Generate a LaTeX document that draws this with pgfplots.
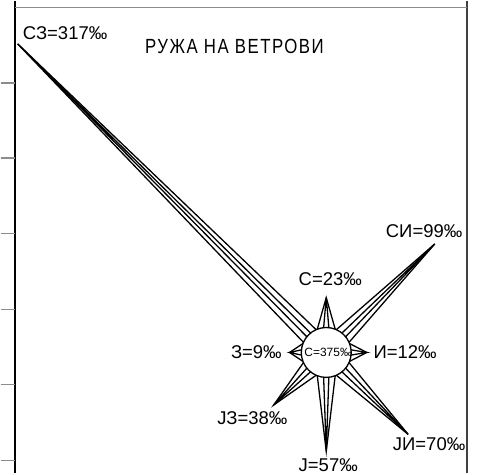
\documentclass[border=0pt]{standalone}
\usepackage{pgfplots}
\pgfplotsset{compat=1.18}
\usepackage{fontspec}
\setmainfont{Liberation Sans}
\newfontfamily\titlefont[LetterSpace=9]{Liberation Sans}
\begin{document}
\begin{tikzpicture}
\begin{axis}[
  x=1pt, y=1pt,
  xmin=-326, xmax=157, ymin=-121, ymax=352,
  hide axis, clip=false,
]
% page extent
\path[draw=none] (axis cs:-326,-121) rectangle (axis cs:157,352);
% frame lines of the sheet
\draw[black, line width=2pt] (axis cs:-312,-121) -- (axis cs:-312,352);
\draw[black!75, line width=1.3pt] (axis cs:141,-121) -- (axis cs:141,352);
\draw[black!45, line width=1.5pt] (axis cs:-312,345.5) -- (axis cs:141,345.5);
\draw[black!45, line width=1.5pt] (axis cs:-326,270) -- (axis cs:-312,270);
\draw[black!45, line width=1.5pt] (axis cs:-326,195) -- (axis cs:-312,195);
\draw[black!45, line width=1.5pt] (axis cs:-326,119) -- (axis cs:-312,119);
\draw[black!45, line width=1.5pt] (axis cs:-326,43) -- (axis cs:-312,43);
\draw[black!45, line width=1.5pt] (axis cs:-326,-32) -- (axis cs:-312,-32);
\draw[black!45, line width=1.5pt] (axis cs:-326,-108) -- (axis cs:-312,-108);
% wind arms: radius = 25 + 1.3 x frequency (permille)
\pgfplotsset{every axis plot/.append style={black, line width=1.3pt, no markers, line join=miter}}
% N 23
\addplot[data cs=polar] coordinates {(69,25) (90,54.9) (111,25)};
\addplot[data cs=polar] coordinates {(84,25) (90,54.9) (96,25)};
% NE 99
\addplot[data cs=polar] coordinates {(24,25) (45,153.7) (66,25)};
\addplot[data cs=polar] coordinates {(39,25) (45,153.7) (51,25)};
% E 12
\addplot[data cs=polar] coordinates {(-21,25) (0,40.6) (21,25)};
\addplot[data cs=polar] coordinates {(-6,25) (0,40.6) (6,25)};
% SE 70
\addplot[data cs=polar] coordinates {(-66,25) (-45,116) (-24,25)};
\addplot[data cs=polar] coordinates {(-51,25) (-45,116) (-39,25)};
% S 57
\addplot[data cs=polar] coordinates {(-111,25) (-90,99.1) (-69,25)};
\addplot[data cs=polar] coordinates {(-96,25) (-90,99.1) (-84,25)};
% SW 38
\addplot[data cs=polar] coordinates {(-156,25) (-135,74.4) (-114,25)};
\addplot[data cs=polar] coordinates {(-141,25) (-135,74.4) (-129,25)};
% W 9
\addplot[data cs=polar] coordinates {(159,25) (180,36.7) (201,25)};
\addplot[data cs=polar] coordinates {(174,25) (180,36.7) (186,25)};
% NW 317
\addplot[data cs=polar] coordinates {(114,25) (135,437.1) (156,25)};
\addplot[data cs=polar] coordinates {(129,25) (135,437.1) (141,25)};
% calm circle
\draw[black, line width=1.3pt, fill=white] (axis cs:0,0) circle[radius=25pt];
\node[font=\fontsize{12}{14}\selectfont, inner sep=0pt] at (axis cs:2,0) {C=375‰};
% labels
\begin{scope}[every node/.style={font=\fontsize{18.5}{22}\selectfont, inner sep=0pt}]
\node[anchor=west] at (axis cs:-304,320) {СЗ=317‰};
\node at (axis cs:4,73) {С=23‰};
\node at (axis cs:98,122) {СИ=99‰};
\node at (axis cs:-70,0) {З=9‰};
\node at (axis cs:79,0) {И=12‰};
\node at (axis cs:-74,-66) {ЈЗ=38‰};
\node at (axis cs:103,-92) {ЈИ=70‰};
\node at (axis cs:2,-113) {Ј=57‰};
\end{scope}
\node[font=\titlefont\fontsize{20.5}{24}\selectfont, inner sep=0pt, xscale=0.82] at (axis cs:-92,306) {РУЖА НА ВЕТРОВИ};
\end{axis}
\end{tikzpicture}
\end{document}
